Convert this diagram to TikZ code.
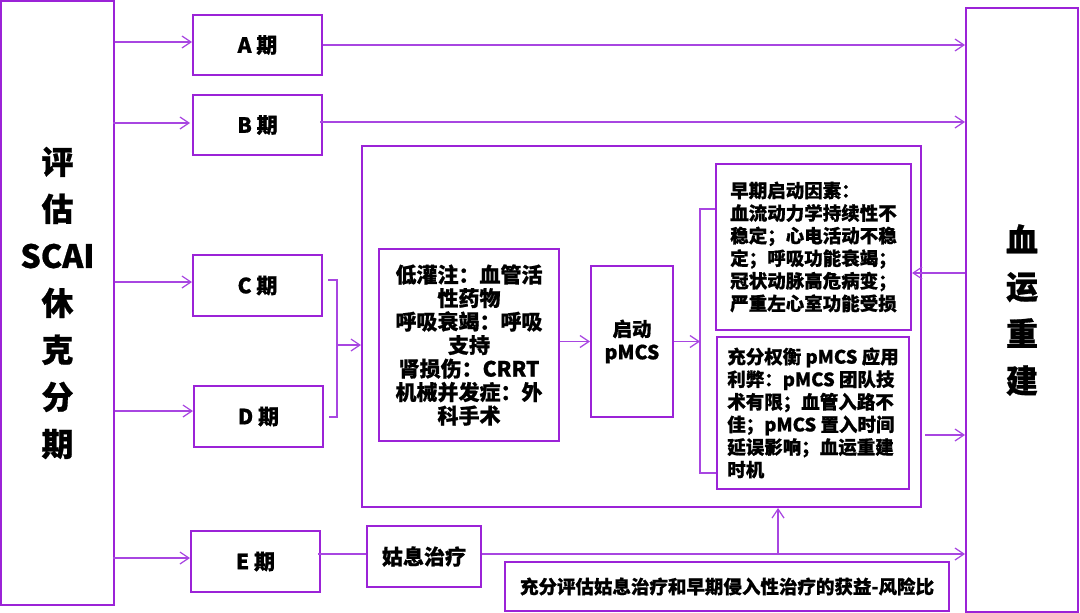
\documentclass[tikz,border=0pt]{standalone}
\usepackage{fontspec}
\setmainfont{Noto Sans CJK SC}[BoldFeatures={FakeBold=0.8}]
\usetikzlibrary{arrows.meta,calc}
\definecolor{pbox}{RGB}{155,35,215}
\definecolor{pline}{RGB}{168,70,225}
\begin{document}
\begin{tikzpicture}[x=1pt,y=-1pt,
 box/.style={draw=pbox,line width=2pt,inner sep=0pt,align=center},
 arr/.style={draw=pline,line width=1.2pt,-{Straight Barb[length=9pt,width=12pt]}},
 ln/.style={draw=pline,line width=1.2pt},
 big/.style={font=\bfseries\fontsize{32}{47}\selectfont},
 stage/.style={box,minimum width=129pt,minimum height=61pt,font=\bfseries\fontsize{21}{24}\selectfont},
 mid/.style={font=\bfseries\fontsize{21}{23.5}\selectfont},
 small/.style={font=\bfseries\fontsize{18.5}{22.6}\selectfont}]
\useasboundingbox (0,0) rectangle (1080,613);
% outer columns
\node[box,big,minimum width=113pt,minimum height=604pt] (L) at (57.5,303) {评\\估\\SCAI\\休\\克\\分\\期};
\node[box,big,minimum width=112pt,minimum height=604pt] (R) at (1022,310) {血\\运\\重\\建};
% stages
\node[stage,minimum height=60pt] (A) at (257.5,45) {A 期};
\node[stage,minimum height=60pt] (B) at (257.5,125) {B 期};
\node[stage] (C) at (257.5,285.5) {C 期};
\node[stage] (D) at (258.5,416.5) {D 期};
\node[stage] (E) at (255.5,561.5) {E 期};
% big frame
\node[box,minimum width=559pt,minimum height=361pt] (Big) at (641.5,326.5) {};
\node[box,mid,minimum width=180pt,minimum height=192pt] (P) at (469,345) {低灌注：血管活\\性药物\\呼吸衰竭：呼吸\\支持\\肾损伤：CRRT\\机械并发症：外\\科手术};
\node[box,font=\bfseries\fontsize{19.5}{23}\selectfont,minimum width=82pt,minimum height=151pt] (S) at (632,341.5) {启动\\pMCS};
\node[box,small,align=left,minimum width=195pt,minimum height=166pt] (F1) at (813.5,247) {早期启动因素：\\血流动力学持续性不\\稳定；心电活动不稳\\定；呼吸功能衰竭；\\冠状动脉高危病变；\\严重左心室功能受损};
\node[box,small,align=left,minimum width=192pt,minimum height=152pt] (F2) at (813,413) {充分权衡 pMCS 应用\\利弊：pMCS 团队技\\术有限；血管入路不\\佳；pMCS 置入时间\\延误影响；血运重建\\时机};
% bottom
\node[box,mid,minimum width=114pt,minimum height=61pt] (G) at (424,556.5) {姑息治疗};
\node[box,font=\bfseries\fontsize{18.5}{22}\selectfont,minimum width=444pt,minimum height=49pt] (H) at (727,586.5) {充分评估姑息治疗和早期侵入性治疗的获益-风险比};
% connectors from left
\draw[arr] ($(L.east|-A.west)+(0,-3)$) -- ($(A.west)+(0,-3)$);
\draw[arr] ($(L.east|-B.west)+(-2,-2)$) -- ($(B.west)+(-2,-2)$);
\draw[arr] ($(L.east|-C.west)+(0,-3.5)$) -- ($(C.west)+(0,-3.5)$);
\draw[arr] ($(L.east|-D.west)+(0,-5.5)$) -- ($(D.west)+(0,-5.5)$);
\draw[arr] ($(L.east|-E.west)+(-2,-3.5)$) -- ($(E.west)+(0,-3.5)$);
% A, B to right
\draw[arr] (A.east) -- (A.east -| R.west);
\draw[arr] ($(B.east)+(-3,-3)$) -- ($(B.east -| R.west)+(0,-3)$);
% C/D bracket
\draw[ln] ($(C.east)+(5,-5.5)$) -- ++(9,0) |- ($(D.east)+(5,0.5)$);
\coordinate (cdm) at (336,345);
\draw[arr] (cdm) -- (cdm -| Big.west);
% inside big frame
\draw[arr] (P.east |- S.west) -- (S.west);
\coordinate (br) at (700,341.5);
\draw[arr] (S.east) -- (br);
\draw[ln] ($(F1.west)+(0,-38)$) -| (br) |- ($(F2.west)+(0,60)$);
\draw[arr] ($(R.west)+(0,-37)$) -- ($(F1.east)+(0,26)$);
\draw[arr] ($(Big.east)+(3,108.5)$) -- ($(R.west)+(0,125)$);
% E row
\draw[ln] ($(E.east)+(-3,-7.5)$) -- ($(G.west)+(0,-2.5)$);
\draw[arr] ($(G.east)+(0,-2.5)$) -- ($(G.east -| R.west)+(0,-2.5)$);
\coordinate (up) at (778,554);
\draw[arr] (up) -- (up |- Big.south);
\end{tikzpicture}
\end{document}
